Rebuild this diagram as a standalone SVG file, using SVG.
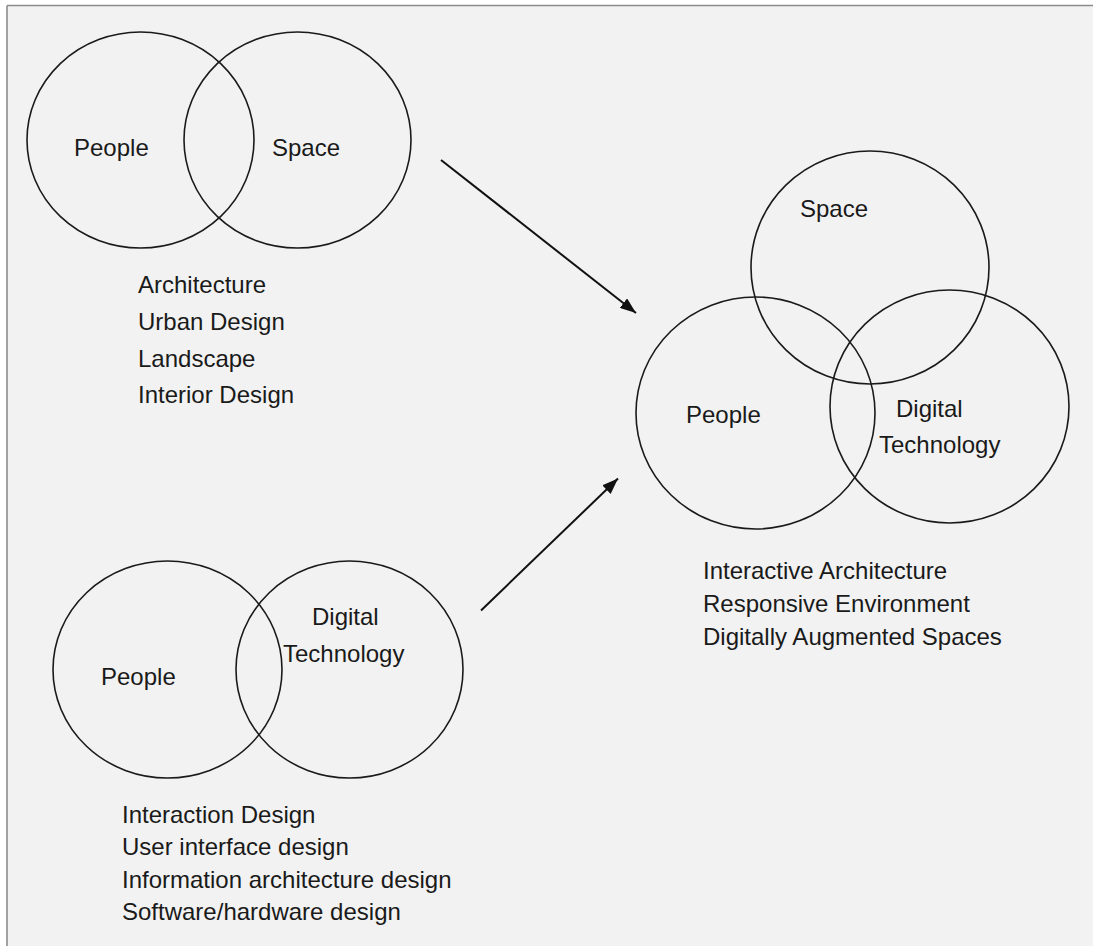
<svg xmlns="http://www.w3.org/2000/svg" width="1093" height="946" viewBox="0 0 1093 946">
<defs>
<style>
.c{fill:none;stroke:#1a1a1a;stroke-width:1.6}
.t{font-family:"Liberation Sans",Arial,sans-serif;font-size:24px;fill:#1a1a1a}
.a{stroke:#111;stroke-width:2;fill:none}
</style>
<marker id="arr" viewBox="0 0 16 12" refX="16" refY="6" markerWidth="16" markerHeight="12" markerUnits="userSpaceOnUse" orient="auto">
<path d="M0,0 L16,6 L0,12 z" fill="#111"/>
</marker>
</defs>
<rect x="0" y="0" width="1093" height="946" fill="#ffffff"/>
<rect x="7" y="5.5" width="1090" height="945" fill="#f2f2f2"/>
<line x1="7" y1="5.5" x2="1093" y2="5.5" stroke="#8c8c8c" stroke-width="1.6"/>
<line x1="7" y1="5.5" x2="7" y2="946" stroke="#8c8c8c" stroke-width="1.6"/>

<g id="top-left">
<ellipse class="c" cx="140.5" cy="140" rx="113.5" ry="108"/>
<ellipse class="c" cx="297.5" cy="140" rx="113.5" ry="108"/>
<text class="t" x="74" y="156">People</text>
<text class="t" x="272" y="156">Space</text>
<text class="t" x="138" y="293">Architecture</text>
<text class="t" x="138" y="330">Urban Design</text>
<text class="t" x="138" y="367">Landscape</text>
<text class="t" x="138" y="403">Interior Design</text>
</g>

<g id="bottom-left">
<ellipse class="c" cx="167.5" cy="669.5" rx="114.5" ry="108.5"/>
<ellipse class="c" cx="349.5" cy="669.5" rx="113.5" ry="108.5"/>
<text class="t" x="101" y="685">People</text>
<text class="t" x="312" y="625">Digital</text>
<text class="t" x="283" y="662">Technology</text>
<text class="t" x="122" y="823">Interaction Design</text>
<text class="t" x="122" y="855">User interface design</text>
<text class="t" x="122" y="888">Information architecture design</text>
<text class="t" x="122" y="920">Software/hardware design</text>
</g>

<g id="right">
<ellipse class="c" cx="870" cy="267.5" rx="119" ry="116.5"/>
<ellipse class="c" cx="755.5" cy="413" rx="119.5" ry="116"/>
<ellipse class="c" cx="949.5" cy="406.5" rx="119.5" ry="116.5"/>
<text class="t" x="800" y="217">Space</text>
<text class="t" x="686" y="423">People</text>
<text class="t" x="896" y="417">Digital</text>
<text class="t" x="879" y="453">Technology</text>
<text class="t" x="703" y="579">Interactive Architecture</text>
<text class="t" x="703" y="612">Responsive Environment</text>
<text class="t" x="703" y="645">Digitally Augmented Spaces</text>
</g>

<g id="connectors">
<line class="a" x1="441" y1="160" x2="636" y2="313" marker-end="url(#arr)"/>
<line class="a" x1="481" y1="610.5" x2="618" y2="478.5" marker-end="url(#arr)"/>
</g>
</svg>
